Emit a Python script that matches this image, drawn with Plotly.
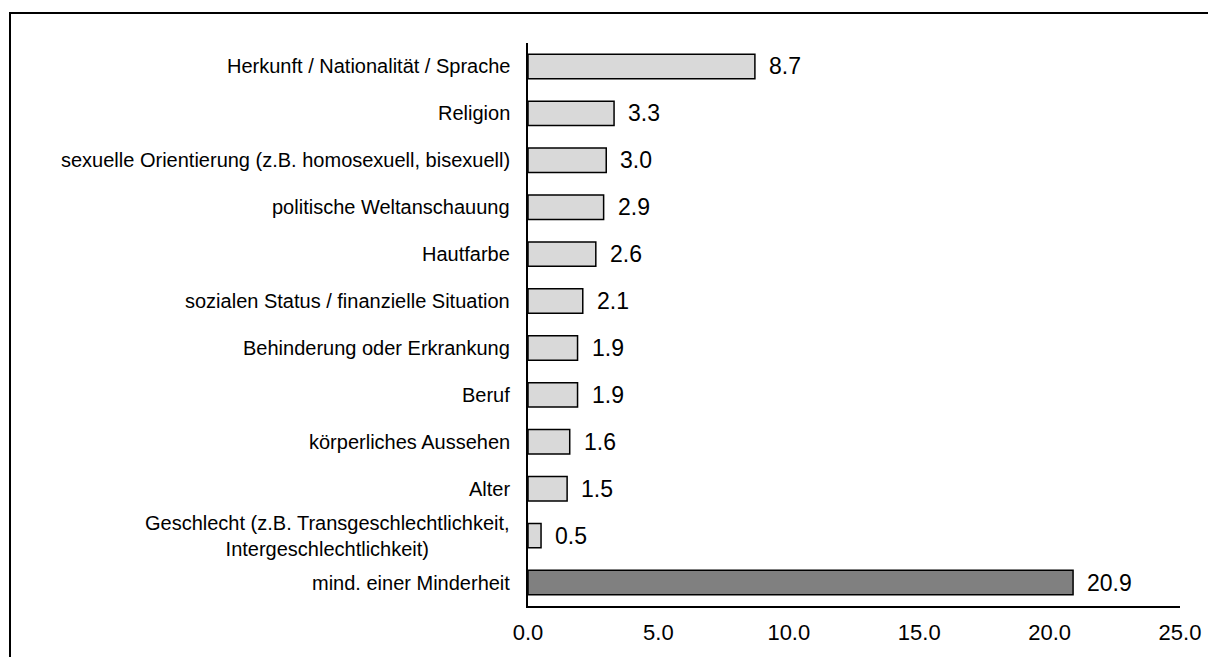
import plotly.graph_objects as go

categories = [
    "Herkunft / Nationalität / Sprache",
    "Religion",
    "sexuelle Orientierung (z.B. homosexuell, bisexuell)",
    "politische Weltanschauung",
    "Hautfarbe",
    "sozialen Status / finanzielle Situation",
    "Behinderung oder Erkrankung",
    "Beruf",
    "körperliches Aussehen",
    "Alter",
    "Geschlecht (z.B. Transgeschlechtlichkeit,<br>Intergeschlechtlichkeit)",
    "mind. einer Minderheit",
]
values = [8.7, 3.3, 3.0, 2.9, 2.6, 2.1, 1.9, 1.9, 1.6, 1.5, 0.5, 20.9]
bar_colors = ["#d9d9d9"] * 11 + ["#808080"]
x_ticks = [0, 5, 10, 15, 20, 25]

FONT = "Liberation Sans, Arial, sans-serif"
W, H = 1208, 657
L, R, T, B = 528, 28, 43, 51

fig = go.Figure()
fig.add_trace(go.Bar(
    y=list(range(len(categories))),
    x=values,
    orientation="h",
    width=0.52,
    marker=dict(color=bar_colors, line=dict(color="#000000", width=1.5)),
    hoverinfo="skip",
))

annotations = []
for i, (c, v) in enumerate(zip(categories, values)):
    annotations.append(dict(
        x=v, y=i, xref="x", yref="y", text=f"{v:.1f}", showarrow=False,
        xanchor="left", yanchor="middle", xshift=12,
        font=dict(family=FONT, size=23, color="#000000"),
    ))
    annotations.append(dict(
        x=0, y=i, xref="paper", yref="y", text=c, showarrow=False,
        xanchor="right", yanchor="middle", xshift=-16, align="center",
        font=dict(family=FONT, size=20, color="#000000"),
    ))

pw = W - L - R
ph = H - T - B
frame_x0 = (10 - L) / pw
frame_y1 = 1 + (T - 13) / ph

fig.update_layout(
    width=W, height=H,
    margin=dict(l=L, r=R, t=T, b=B, pad=0, autoexpand=False),
    paper_bgcolor="white", plot_bgcolor="white",
    showlegend=False,
    annotations=annotations,
    xaxis=dict(
        range=[0, 25], tickvals=x_ticks, tickformat=".1f", automargin=False,
        showgrid=False, zeroline=False, showline=True, linecolor="#000000", linewidth=1.5,
        ticks="", tickfont=dict(family=FONT, size=22, color="#000000"),
        ticklabelstandoff=6,
    ),
    yaxis=dict(
        range=[len(categories) - 0.5, -0.5], showticklabels=False, automargin=False,
        showgrid=False, zeroline=False, showline=True, linecolor="#000000", linewidth=2,
        ticks="",
    ),
    shapes=[dict(
        type="rect", xref="paper", yref="paper",
        x0=frame_x0, x1=1.2, y0=-0.3, y1=frame_y1,
        line=dict(color="#000000", width=2), fillcolor="rgba(0,0,0,0)", layer="below",
    )],
)

fig.write_html(
    "out.html",
    config={"displayModeBar": False},
    post_script="document.body.style.margin='0';document.body.style.overflow='hidden';",
)
